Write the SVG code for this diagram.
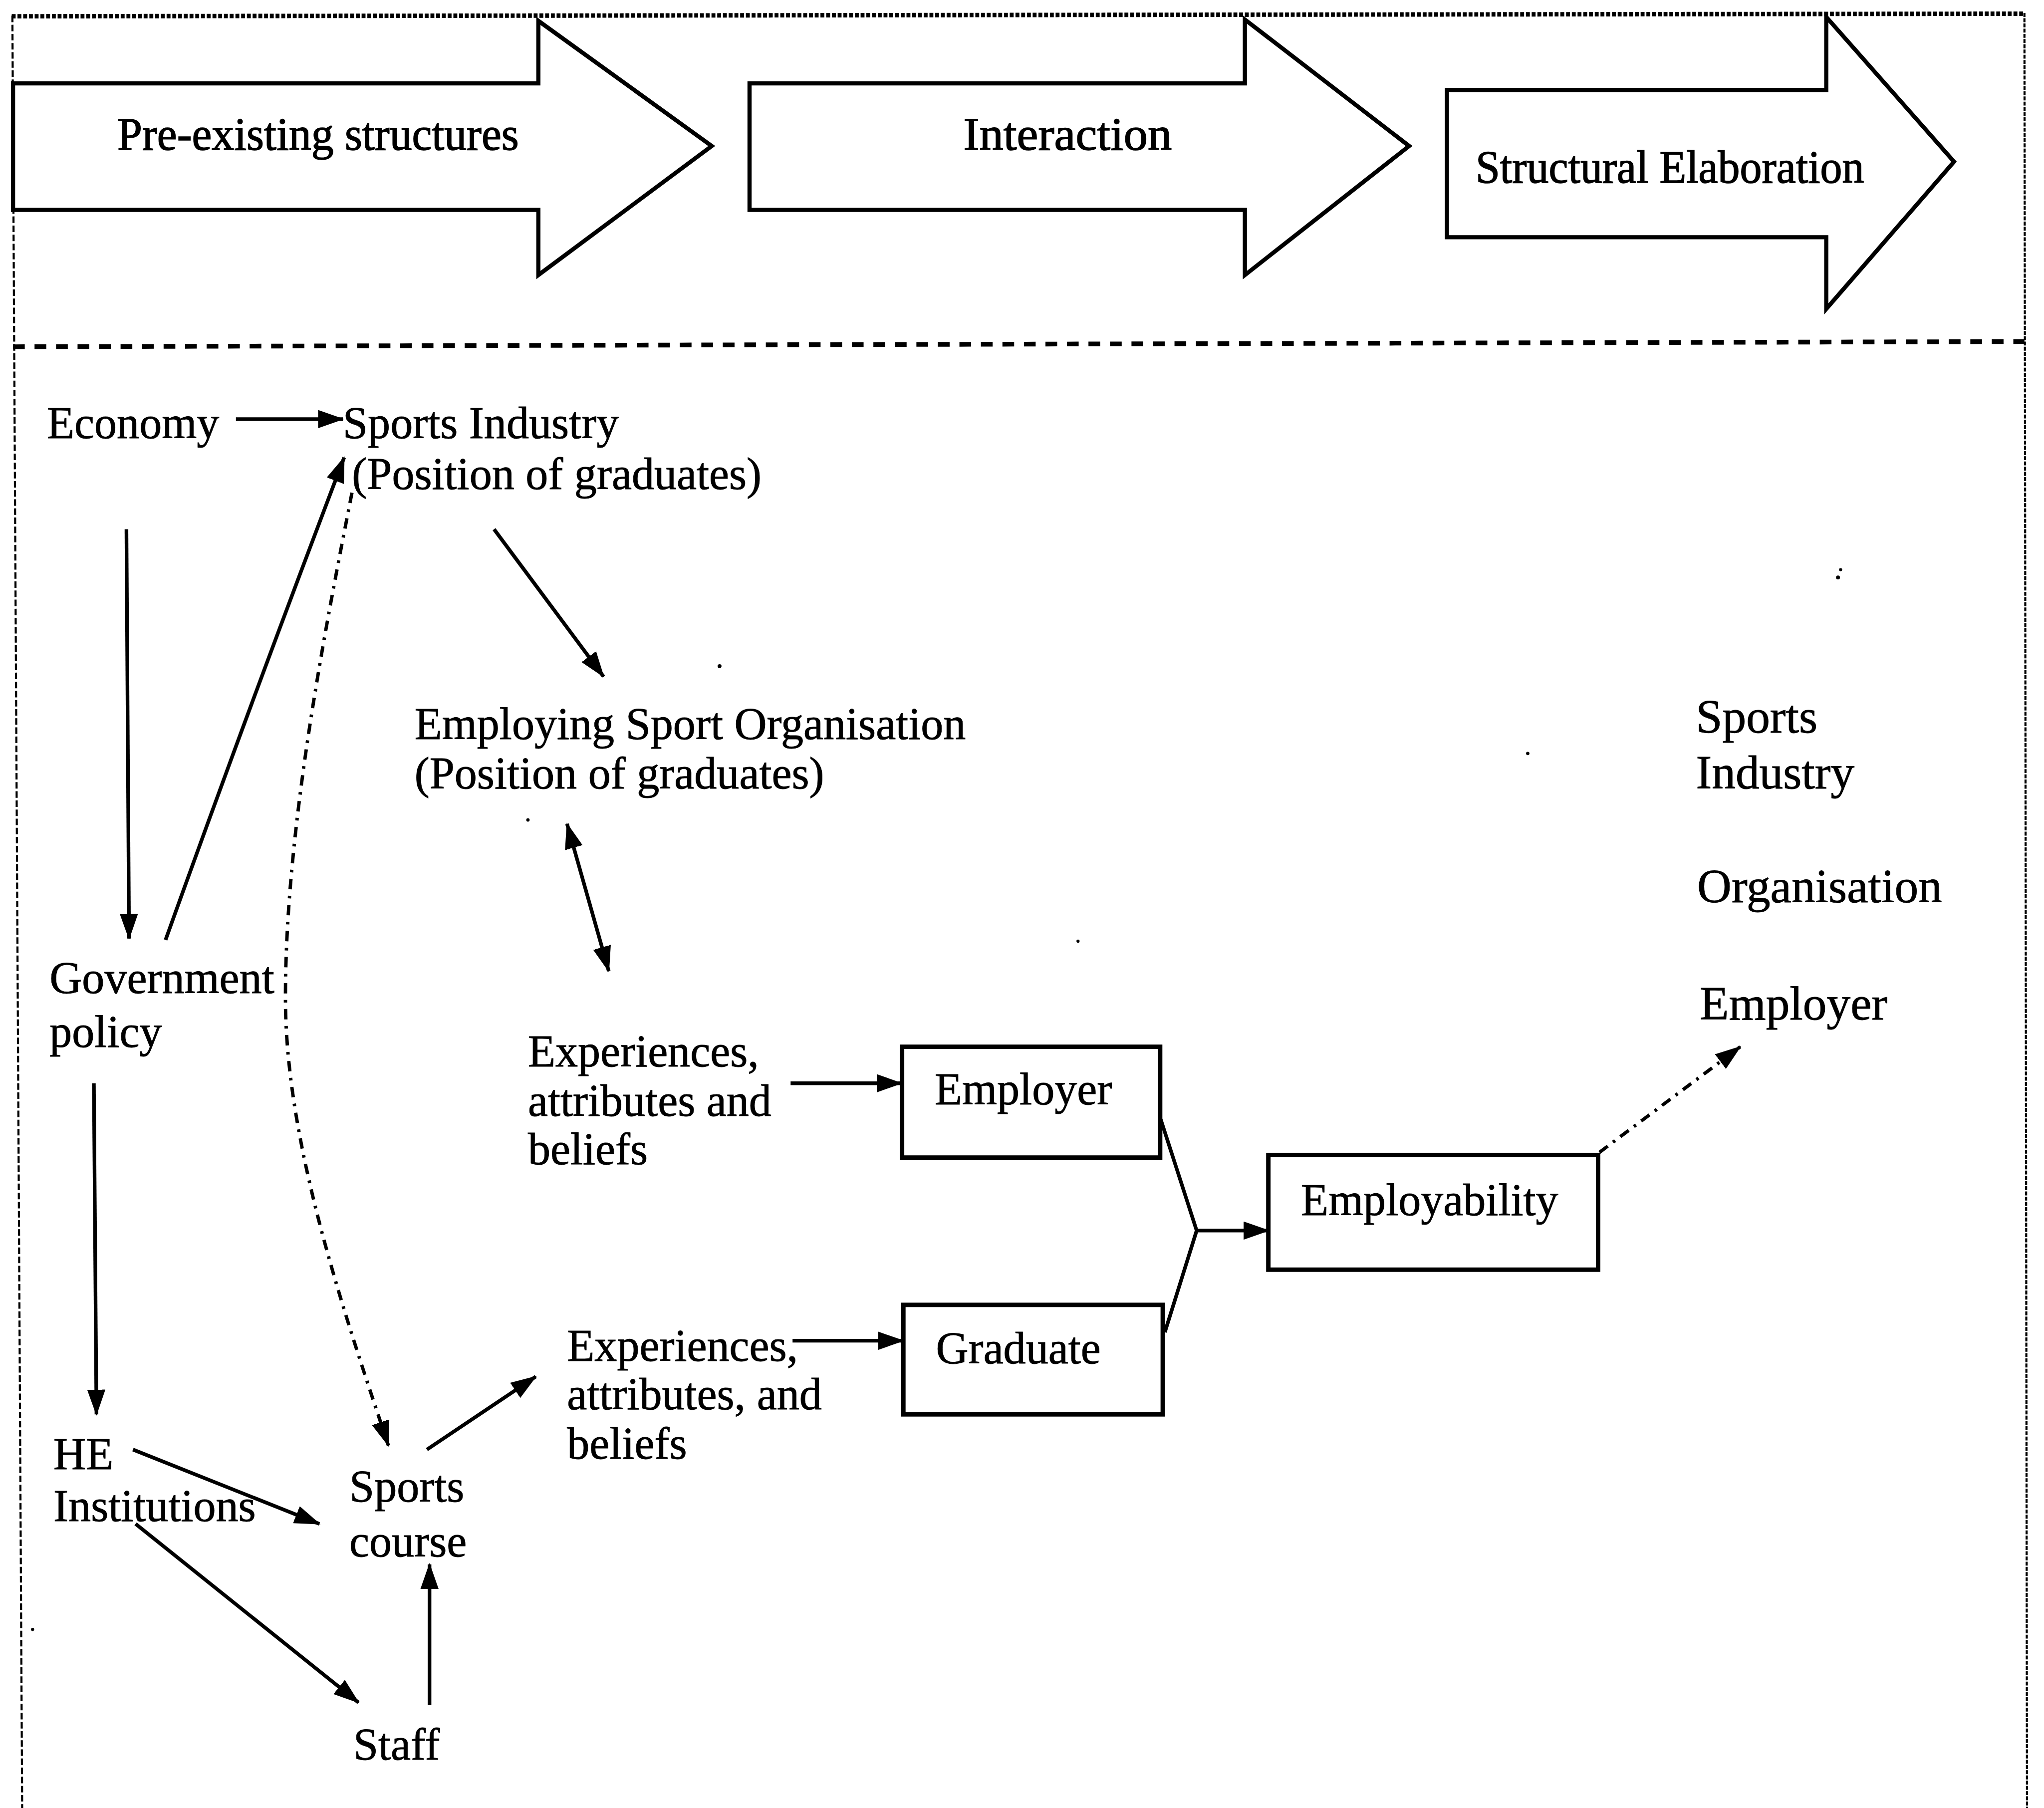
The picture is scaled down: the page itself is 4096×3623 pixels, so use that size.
<svg xmlns="http://www.w3.org/2000/svg" width="4096" height="3623" viewBox="0 0 4096 3623">
  <defs>
    <style>
      .lbl { font-family: "Liberation Serif", "Times New Roman", serif; font-size: 34.5px; fill: #000; stroke: #000; stroke-width: 0.35; }
      .big { font-size: 36.5px; }
      .head { font-family: "Liberation Serif", "Times New Roman", serif; font-size: 36px; fill: #000; stroke: #000; stroke-width: 0.6; }
      .stage { fill: #fff; stroke: #000; stroke-width: 3.2; stroke-linejoin: miter; }
      .box { fill: #fff; stroke: #000; stroke-width: 3.4; }
      .link { fill: none; stroke: #000; stroke-width: 2.8; }
      .dashdot { fill: none; stroke: #000; stroke-width: 2.6; stroke-dasharray: 8 5 2 5; }
      .speck { fill: #000; }
    </style>
    <marker id="tip" markerUnits="userSpaceOnUse" markerWidth="20" markerHeight="14" refX="19" refY="7" orient="auto-start-reverse">
      <path d="M0,0 L20,7 L0,14 Z" fill="#000"/>
    </marker>
  </defs>
  <rect width="4096" height="3623" fill="#fff"/>
  <g transform="scale(2.6122)">
    <!-- frame -->
    <g id="frame">
      <line x1="9" y1="12.5" x2="1553" y2="10.5" stroke="#000" stroke-width="3.4" stroke-dasharray="3 1.4"/>
      <line x1="9.5" y1="12" x2="17" y2="1387" stroke="#000" stroke-width="1.6" stroke-dasharray="5 2"/>
      <line x1="1553" y1="10" x2="1555" y2="1387" stroke="#000" stroke-width="1.6" stroke-dasharray="3 1"/>
      <line x1="10" y1="266" x2="1553" y2="262" stroke="#000" stroke-width="3.6" stroke-dasharray="9 7.5"/>
    </g>

    <!-- stage arrows -->
    <g id="stage-preexisting">
      <polygon class="stage" points="10,64 413,64 413,16 546,112 413,211 413,161 10,161"/>
      <text class="head" x="90" y="115" textLength="308" lengthAdjust="spacingAndGlyphs">Pre-existing structures</text>
    </g>
    <g id="stage-interaction">
      <polygon class="stage" points="575,64 955,64 955,15 1081,112 955,211 955,161 575,161"/>
      <text class="head" x="739" y="115" textLength="160" lengthAdjust="spacingAndGlyphs">Interaction</text>
    </g>
    <g id="stage-elaboration">
      <polygon class="stage" points="1110,69 1401,69 1401,13 1499,124 1401,237 1401,182 1110,182"/>
      <text class="head" x="1132" y="140" textLength="298" lengthAdjust="spacingAndGlyphs">Structural Elaboration</text>
    </g>

    <!-- nodes -->
    <g id="economy"><text class="lbl" x="36" y="336">Economy</text></g>
    <g id="sports-industry">
      <text class="lbl" x="263" y="336">Sports Industry</text>
      <text class="lbl" x="270" y="375">(Position of graduates)</text>
    </g>
    <g id="employing-org">
      <text class="lbl" x="318" y="567">Employing Sport Organisation</text>
      <text class="lbl" x="318" y="605">(Position of graduates)</text>
    </g>
    <g id="government">
      <text class="lbl" x="38" y="762">Government</text>
      <text class="lbl" x="38" y="803">policy</text>
    </g>
    <g id="experiences-employer">
      <text class="lbl" x="405" y="818">Experiences,</text>
      <text class="lbl" x="405" y="856">attributes and</text>
      <text class="lbl" x="405" y="893">beliefs</text>
    </g>
    <g id="employer">
      <rect class="box" x="692" y="803" width="198" height="85"/>
      <text class="lbl" x="717" y="847">Employer</text>
    </g>
    <g id="graduate">
      <rect class="box" x="693" y="1001" width="199" height="84"/>
      <text class="lbl" x="718" y="1046">Graduate</text>
    </g>
    <g id="employability">
      <rect class="box" x="973" y="886" width="253" height="88"/>
      <text class="lbl" x="998" y="932">Employability</text>
    </g>
    <g id="experiences-graduate">
      <text class="lbl" x="435" y="1044">Experiences,</text>
      <text class="lbl" x="435" y="1081">attributes, and</text>
      <text class="lbl" x="435" y="1119">beliefs</text>
    </g>
    <g id="he-institutions">
      <text class="lbl" x="41" y="1127">HE</text>
      <text class="lbl" x="41" y="1167">Institutions</text>
    </g>
    <g id="sports-course">
      <text class="lbl" x="268" y="1152">Sports</text>
      <text class="lbl" x="268" y="1194">course</text>
    </g>
    <g id="staff"><text class="lbl" x="271" y="1350">Staff</text></g>
    <g id="elaborated-levels">
      <text class="lbl big" x="1301" y="562">Sports</text>
      <text class="lbl big" x="1301" y="605">Industry</text>
      <text class="lbl big" x="1302" y="692">Organisation</text>
      <text class="lbl big" x="1304" y="782">Employer</text>
    </g>

    <!-- connectors -->
    <g id="connectors">
      <line class="link" x1="181" y1="321.5" x2="263" y2="321.5" marker-end="url(#tip)"/>
      <line class="link" x1="97" y1="406" x2="99" y2="720" marker-end="url(#tip)"/>
      <path class="link" d="M127,721 Q192,540 264,351" marker-end="url(#tip)"/>
      <path class="dashdot" d="M270,378 C250,480 218,640 219,770 C220,880 265,1010 298,1109" marker-end="url(#tip)"/>
      <line class="link" x1="379" y1="406" x2="463" y2="519" marker-end="url(#tip)"/>
      <line class="link" x1="435" y1="632" x2="467" y2="745" marker-start="url(#tip)" marker-end="url(#tip)"/>
      <line class="link" x1="72" y1="831" x2="74" y2="1085" marker-end="url(#tip)"/>
      <line class="link" x1="102" y1="1112" x2="245" y2="1169" marker-end="url(#tip)"/>
      <line class="link" x1="104" y1="1169" x2="275" y2="1306" marker-end="url(#tip)"/>
      <line class="link" x1="329.5" y1="1308" x2="329.5" y2="1200" marker-end="url(#tip)"/>
      <line class="link" x1="327.5" y1="1112" x2="411" y2="1056" marker-end="url(#tip)"/>
      <line class="link" x1="606.5" y1="831" x2="691.5" y2="831" marker-end="url(#tip)"/>
      <line class="link" x1="608" y1="1028.5" x2="692.7" y2="1028.5" marker-end="url(#tip)"/>
      <polyline class="link" points="890.4,858.6 918,944 893.6,1022"/>
      <line class="link" x1="918" y1="944" x2="973" y2="944" marker-end="url(#tip)"/>
      <line class="dashdot" x1="1227" y1="884" x2="1335" y2="803" marker-end="url(#tip)"/>
    </g>

    <!-- stray specks in the print -->
    <g id="specks">
      <circle class="speck" cx="552" cy="511" r="1.5"/>
      <circle class="speck" cx="405" cy="629" r="1.3"/>
      <circle class="speck" cx="1172" cy="578" r="1.3"/>
      <circle class="speck" cx="827" cy="722" r="1.2"/>
      <circle class="speck" cx="1412" cy="437" r="1.2"/>
      <circle class="speck" cx="1410" cy="443" r="1.5"/>
      <circle class="speck" cx="25" cy="1250" r="1.2"/>
    </g>
  </g>
</svg>
